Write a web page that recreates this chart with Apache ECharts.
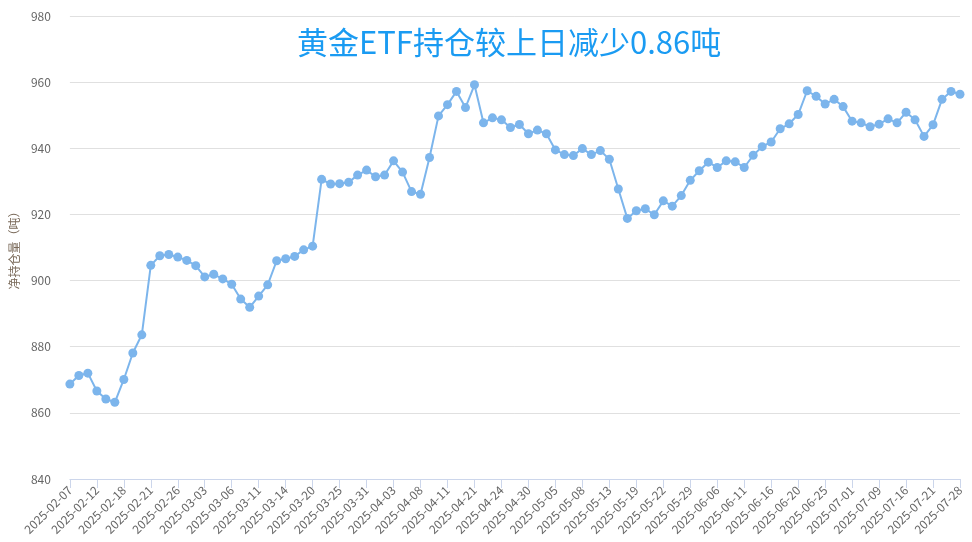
<!DOCTYPE html>
<html>
<head>
<meta charset="utf-8">
<script src="https://cdn.jsdelivr.net/npm/echarts@6/dist/echarts.min.js"></script>
<style>
html,body{margin:0;padding:0;background:#fff;}
#chart{width:972px;height:542px;}
</style>
</head>
<body>
<div id="chart"></div>
<script>
var titleText = '黄金ETF持仓较上日减少0.86吨';
var yAxisName = '净持仓量（吨）';
var dates = [
'2025-02-07','2025-02-10','2025-02-11','2025-02-12','2025-02-13','2025-02-14','2025-02-18','2025-02-19','2025-02-20','2025-02-21',
'2025-02-24','2025-02-25','2025-02-26','2025-02-27','2025-02-28','2025-03-03','2025-03-04','2025-03-05','2025-03-06','2025-03-07',
'2025-03-10','2025-03-11','2025-03-12','2025-03-13','2025-03-14','2025-03-17','2025-03-18','2025-03-20','2025-03-21','2025-03-24',
'2025-03-25','2025-03-26','2025-03-27','2025-03-31','2025-04-01','2025-04-02','2025-04-03','2025-04-04','2025-04-07','2025-04-08',
'2025-04-09','2025-04-10','2025-04-11','2025-04-15','2025-04-17','2025-04-21','2025-04-22','2025-04-23','2025-04-24','2025-04-25',
'2025-04-29','2025-04-30','2025-05-01','2025-05-02','2025-05-05','2025-05-06','2025-05-07','2025-05-08','2025-05-09','2025-05-12',
'2025-05-13','2025-05-14','2025-05-16','2025-05-19','2025-05-20','2025-05-21','2025-05-22','2025-05-23','2025-05-27','2025-05-29',
'2025-05-30','2025-06-04','2025-06-06','2025-06-09','2025-06-10','2025-06-11','2025-06-12','2025-06-13','2025-06-16','2025-06-17',
'2025-06-18','2025-06-20','2025-06-23','2025-06-24','2025-06-25','2025-06-26','2025-06-27','2025-07-01','2025-07-02','2025-07-07',
'2025-07-09','2025-07-10','2025-07-14','2025-07-16','2025-07-17','2025-07-18','2025-07-21','2025-07-22','2025-07-25','2025-07-28'
];
var holdings = [
868.7,871.3,872.0,866.6,864.2,863.2,870.1,878.1,883.6,904.6,
907.5,907.9,907.1,906.1,904.5,901.1,901.9,900.5,898.9,894.4,
891.9,895.3,898.7,906.0,906.6,907.3,909.3,910.4,930.6,929.2,
929.3,929.7,931.9,933.4,931.4,931.9,936.2,932.8,926.9,926.1,
937.2,949.8,953.2,957.2,952.3,959.2,947.7,949.2,948.6,946.3,
947.2,944.4,945.5,944.4,939.5,938.1,937.8,939.9,938.1,939.3,
936.7,927.7,918.8,921.1,921.7,919.9,924.1,922.5,925.7,930.3,
933.2,935.8,934.2,936.2,935.9,934.2,937.9,940.5,941.9,945.9,
947.4,950.2,957.4,955.7,953.4,954.8,952.6,948.2,947.7,946.5,
947.3,948.9,947.7,950.9,948.6,943.6,947.1,954.8,957.2,956.34
];
var yMin = 840, yMax = 980, yStep = 20;

var chart = echarts.init(document.getElementById('chart'), null, {renderer:'canvas'});
chart.setOption({
  animation: false,
  backgroundColor: '#ffffff',
  textStyle: {fontFamily: '"Noto Sans CJK SC", "Noto Sans", sans-serif'},
  title: {
    text: titleText,
    left: 292,
    top: 22,
    textStyle: {color: '#1a9bf2', fontSize: 31, fontWeight: 'normal', fontFamily: '"Noto Sans CJK SC", sans-serif'}
  },
  grid: {left: 69, right: 12, top: 16, bottom: 63, containLabel: false},
  xAxis: {
    type: 'category',
    data: dates,
    boundaryGap: false,
    axisLine: {lineStyle: {color: '#ccd6eb'}},
    axisTick: {show: true, interval: 2, length: 9, lineStyle: {color: '#ccd6eb'}},
    axisLabel: {interval: 2, rotate: 45, color: '#666666', fontSize: 12, margin: 9, fontFamily: '"Noto Sans CJK SC", sans-serif'},
    splitLine: {show: false}
  },
  yAxis: {
    type: 'value',
    min: yMin, max: yMax, interval: yStep,
    name: yAxisName,
    nameLocation: 'middle',
    nameGap: 49,
    nameRotate: 90,
    nameTextStyle: {color: '#7a6a5a', fontSize: 12, fontFamily: '"Noto Sans CJK SC", sans-serif'},
    axisLine: {show: false},
    axisTick: {show: false},
    axisLabel: {color: '#666666', fontSize: 12, margin: 19},
    splitLine: {lineStyle: {color: '#e0e0e0', width: 1}}
  },
  series: [{
    type: 'line',
    data: holdings,
    symbol: 'circle',
    symbolSize: 9,
    showAllSymbol: true,
    lineStyle: {color: '#7cb5ec', width: 2},
    itemStyle: {color: '#7cb5ec'}
  }]
});
</script>
</body>
</html>
